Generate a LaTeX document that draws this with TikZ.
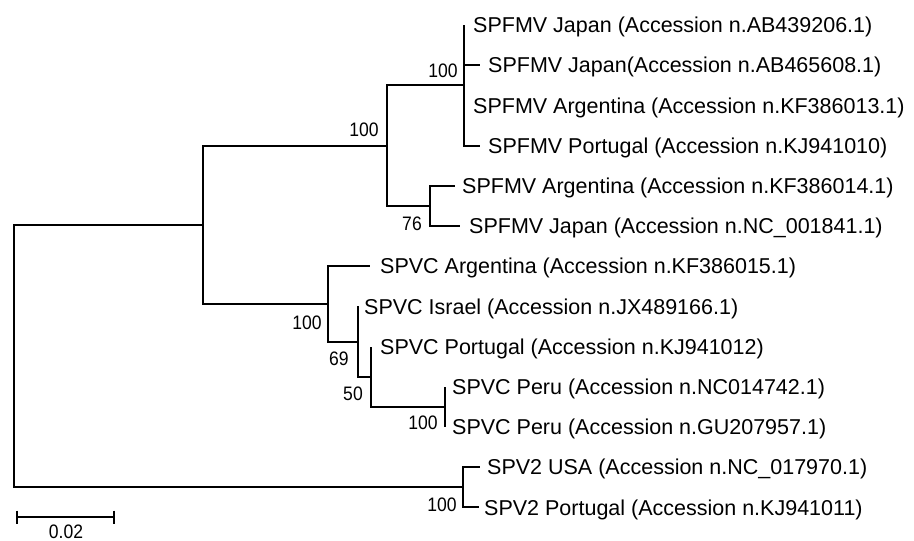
\documentclass[tikz,border=0pt]{standalone}
\usepackage{fontspec}
\setmainfont{Liberation Sans}
\newfontfamily\numfont[FakeStretch=0.9]{Liberation Sans}

\begin{document}
\begin{tikzpicture}[x=1pt,y=-1pt,
  branch/.style={line width=2pt, line join=miter},
  taxon/.style={anchor=base west, inner sep=0pt, font=\fontsize{21.5}{24}\selectfont},
  support/.style={anchor=center, inner sep=0pt, font=\numfont\fontsize{19.5}{22}\selectfont}]
\useasboundingbox[fill=white] (0,0) rectangle (914,541);

% tip ends
\coordinate (t0)  at (464,25);
\coordinate (t1)  at (480,65.2);
\coordinate (t2)  at (464,105.4);
\coordinate (t3)  at (480,145.6);
\coordinate (t4)  at (455,185.8);
\coordinate (t5)  at (460,226);
\coordinate (t6)  at (370,266.2);
\coordinate (t7)  at (358,306.4);
\coordinate (t8)  at (371,346.6);
\coordinate (t9)  at (445,386.8);
\coordinate (t10) at (445,427);
\coordinate (t11) at (480,467.2);
\coordinate (t12) at (479,507.4);

% internal nodes
\coordinate (C) at (464,85.3);
\coordinate (D) at (430,205.9);
\coordinate (B) at (387,145.6);
\coordinate (H) at (445,406.9);
\coordinate (G) at (371,376.75);
\coordinate (F) at (358,341.6);
\coordinate (E) at (328,303.9);
\coordinate (A) at (202.5,224.75);
\coordinate (I) at (463,487.3);
\coordinate (R) at (13.5,356);

% taxon labels
\node[taxon] (l0)  at (473,32.7)  {SPFMV Japan (Accession n.AB439206.1)};
\node[taxon] (l1)  at (488,72.9)  {SPFMV Japan(Accession n.AB465608.1)};
\node[taxon] (l2)  at (473,113.1) {SPFMV Argentina (Accession n.KF386013.1)};
\node[taxon] (l3)  at (488,153.3) {SPFMV Portugal (Accession n.KJ941010)};
\node[taxon] (l4)  at (462,193.5) {SPFMV Argentina (Accession n.KF386014.1)};
\node[taxon] (l5)  at (469,233.7) {SPFMV Japan (Accession n.NC\_001841.1)};
\node[taxon] (l6)  at (380,273.9) {SPVC Argentina (Accession n.KF386015.1)};
\node[taxon] (l7)  at (364,314.1) {SPVC Israel (Accession n.JX489166.1)};
\node[taxon] (l8)  at (380,354.3) {SPVC Portugal (Accession n.KJ941012)};
\node[taxon] (l9)  at (452,394.5) {SPVC Peru (Accession n.NC014742.1)};
\node[taxon] (l10) at (452,434.7) {SPVC Peru (Accession n.GU207957.1)};
\node[taxon] (l11) at (487,474.9) {SPV2 USA (Accession n.NC\_017970.1)};
\node[taxon] (l12) at (484,515.1) {SPV2 Portugal (Accession n.KJ941011)};

% branches
\draw[branch] (R) |- (A);
\draw[branch] (R) |- (I);
\draw[branch] (A) |- (B);
\draw[branch] (A) |- (E);
\draw[branch] (B) |- (C);
\draw[branch] (B) |- (D);
\draw[branch] (C) |- (t0);
\draw[branch] (C) |- (t1);
\draw[branch] (C) |- (t2);
\draw[branch] (C) |- (t3);
\draw[branch] (D) |- (t4);
\draw[branch] (D) |- (t5);
\draw[branch] (E) |- (t6);
\draw[branch] (E) |- (F);
\draw[branch] (F) |- (t7);
\draw[branch] (F) |- (G);
\draw[branch] (G) |- (t8);
\draw[branch] (G) |- (H);
\draw[branch] (H) |- (t9);
\draw[branch] (H) |- (t10);
\draw[branch] (I) |- (t11);
\draw[branch] (I) |- (t12);

% bootstrap values
\node[support] (bB) at (364,130) {100};
\node[support] (bC) at (443,71)  {100};
\node[support] (bD) at (412,224) {76};
\node[support] (bE) at (307,323) {100};
\node[support] (bF) at (339,359) {69};
\node[support] (bG) at (353,394) {50};
\node[support] (bH) at (423,423) {100};
\node[support] (bI) at (442,505) {100};

% scale bar
\coordinate (s1) at (17,517);
\coordinate (s2) at (114,517);
\draw[branch] (s1) -- (s2);
\draw[branch] ([yshift=6.5pt]s1) -- ([yshift=-6.5pt]s1);
\draw[branch] ([yshift=6.5pt]s2) -- ([yshift=-6.5pt]s2);
\node[support] (scale) at (66,531.5) {0.02};
\end{tikzpicture}
\end{document}
